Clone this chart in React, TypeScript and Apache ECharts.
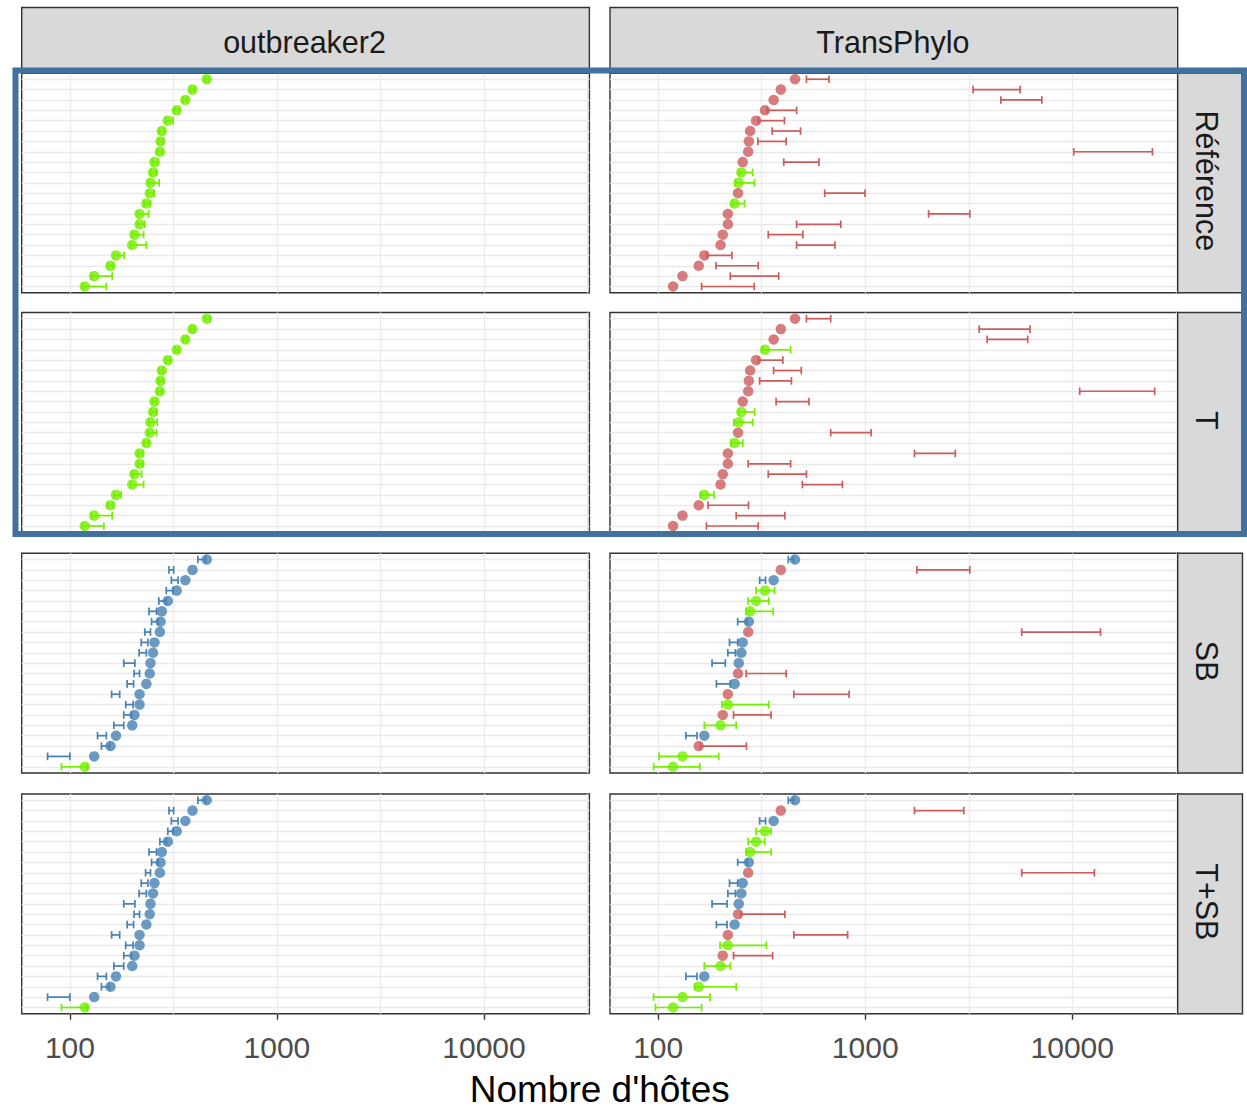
import React, { useEffect, useRef } from 'react';
import * as echarts from 'echarts';

// ---- data ----
const columnLabels = ['outbreaker2', 'TransPhylo'];
const rowLabels = ['Référence', 'T', 'SB', 'T+SB'];
const simRank = [1, 2, 3, 4, 5, 6, 7, 8, 9, 10, 11, 12, 13, 14, 15, 16, 17, 18, 19, 20, 21];
const xTickValues = [100, 1000, 10000];
const xGridValues = [100, 316.23, 1000, 3162.3, 10000, 31623];

const trueHosts = [458, 391, 361, 328, 297, 278, 274, 272, 256, 252, 245, 243, 234, 217, 217, 205, 200, 167, 157, 131, 118];

const obRefLow = [450, 380, 352, 320, 290, 270, 268, 265, 250, 246, 240, 238, 228, 212, 212, 200, 196, 163, 152, 127, 115];
const obRefHigh = [470, 400, 370, 338, 315, 285, 282, 280, 268, 262, 270, 255, 245, 240, 230, 227, 234, 183, 162, 160, 150];

const obTLow = [450, 382, 354, 322, 290, 270, 268, 265, 250, 246, 240, 238, 228, 212, 212, 200, 196, 163, 152, 127, 115];
const obTHigh = [475, 398, 368, 335, 305, 282, 282, 278, 262, 262, 264, 262, 240, 225, 225, 222, 227, 177, 162, 160, 146];

const obSBLow = [415, 301, 309, 292, 269, 241, 248, 230, 221, 216, 182, 204, 189, 159, 186, 182, 163, 136, 142, 78, 91];
const obSBHigh = [452, 317, 333, 315, 292, 262, 267, 245, 238, 234, 206, 217, 203, 174, 202, 198, 182, 150, 155, 100, 121];

const obTSBLow = [415, 301, 309, 297, 272, 241, 248, 232, 221, 216, 182, 204, 189, 159, 186, 182, 163, 136, 142, 78, 91];
const obTSBHigh = [452, 317, 333, 315, 292, 262, 267, 245, 238, 234, 206, 217, 203, 174, 202, 198, 182, 150, 155, 100, 121];

const tpRefLow = [520, 3319, 4519, 335, 305, 355, 303, 10160, 404, 245, 235, 637, 228, 2023, 466, 340, 466, 172, 190, 223, 162];
const tpRefHigh = [668, 5598, 7127, 466, 407, 487, 415, 24380, 598, 286, 292, 997, 261, 3199, 762, 500, 714, 227, 304, 382, 291];

const tpTLow = [520, 3550, 3881, 318, 305, 361, 309, 10860, 371, 245, 232, 681, 225, 1729, 272, 340, 497, 160, 174, 238, 171];
const tpTHigh = [681, 6250, 6093, 436, 400, 491, 440, 25000, 535, 292, 286, 1067, 256, 2723, 436, 520, 776, 186, 273, 409, 304];

const tpSBLow = [425, 1776, 309, 297, 272, 266, 242, 5700, 221, 217, 182, 266, 191, 452, 203, 231, 167, 136, 160, 101, 95];
const tpSBHigh = [450, 3199, 330, 365, 342, 359, 269, 13680, 242, 236, 211, 415, 223, 836, 342, 351, 238, 154, 267, 196, 159];

const tpTSBLow = [425, 1729, 309, 297, 272, 266, 242, 5700, 221, 217, 182, 250, 191, 452, 199, 231, 167, 136, 150, 95, 97];
const tpTSBHigh = [450, 2992, 330, 351, 327, 351, 269, 12790, 242, 236, 215, 409, 215, 822, 333, 357, 223, 154, 238, 178, 162];

const panels = [
  { row: 0, col: 0, low: obRefLow, high: obRefHigh },
  { row: 0, col: 1, low: tpRefLow, high: tpRefHigh },
  { row: 1, col: 0, low: obTLow, high: obTHigh },
  { row: 1, col: 1, low: tpTLow, high: tpTHigh },
  { row: 2, col: 0, low: obSBLow, high: obSBHigh },
  { row: 2, col: 1, low: tpSBLow, high: tpSBHigh },
  { row: 3, col: 0, low: obTSBLow, high: obTSBHigh },
  { row: 3, col: 1, low: tpTSBLow, high: tpTSBHigh },
];

// ---- styling / layout ----
const GREEN = '#76EE00';
const RED = '#CD5C5C';
const BLUE = '#4682B4';
const FONT = '"Liberation Sans", Arial, Helvetica, sans-serif';
const xMin = 58.5;
const xMax = 32300;
const gridLefts = [21.7, 610];
const gridTops = [73, 312.5, 553.3, 794];
const gridW = 567.7;
const gridH = 219.7;
const stripTop = 7.5;
const stripRightX = gridLefts[1] + gridW;
const stripRightW = 64.8;

function coverColor(v: number, lo: number, hi: number) {
  if (lo > v) return RED;
  if (hi < v) return BLUE;
  return GREEN;
}

function buildOption() {
  const grid: any[] = [];
  const xAxis: any[] = [];
  const yAxis: any[] = [];
  const series: any[] = [];

  panels.forEach((p, g) => {
    const colors = trueHosts.map((v, i) => coverColor(v, p.low[i], p.high[i]));
    grid.push({
      left: gridLefts[p.col],
      top: gridTops[p.row],
      width: gridW,
      height: gridH,
      show: true,
      backgroundColor: '#ffffff',
      borderColor: '#333333',
      borderWidth: 1.4,
    });
    xAxis.push({
      type: 'log',
      logBase: 10,
      gridIndex: g,
      min: xMin,
      max: xMax,
      position: 'bottom',
      axisLine: { show: false },
      axisTick: { show: false, customValues: xGridValues },
      axisLabel: { show: false },
      splitLine: { show: true, lineStyle: { color: '#ebebeb', width: 1.4 } },
    });
    yAxis.push({
      type: 'value',
      gridIndex: g,
      inverse: true,
      min: 0.4,
      max: 21.6,
      axisLine: { show: false },
      axisTick: { show: false, customValues: simRank },
      axisLabel: { show: false },
      splitLine: { show: true, lineStyle: { color: '#e9e9e9', width: 1.4 } },
    });
    series.push({
      type: 'custom',
      xAxisIndex: g,
      yAxisIndex: g,
      z: 2,
      encode: { x: [0, 1], y: 2 },
      data: p.low.map((lo, i) => [lo, p.high[i], simRank[i]]),
      renderItem: (params: any, api: any) => {
        const a = api.coord([api.value(0), api.value(2)]);
        const b = api.coord([api.value(1), api.value(2)]);
        const c = colors[params.dataIndex];
        const h = 3.8;
        const st = { stroke: c, lineWidth: 1.7 };
        return {
          type: 'group',
          children: [
            { type: 'line', shape: { x1: a[0], y1: a[1], x2: b[0], y2: b[1] }, style: st },
            { type: 'line', shape: { x1: a[0], y1: a[1] - h, x2: a[0], y2: a[1] + h }, style: st },
            { type: 'line', shape: { x1: b[0], y1: b[1] - h, x2: b[0], y2: b[1] + h }, style: st },
          ],
        };
      },
    });
    series.push({
      type: 'scatter',
      xAxisIndex: g,
      yAxisIndex: g,
      z: 3,
      symbol: 'circle',
      symbolSize: 10.5,
      data: trueHosts.map((v, i) => ({ value: [v, simRank[i]], itemStyle: { color: colors[i] } })),
    });
  });

  // bottom tick/label axes
  panels.forEach((p, g) => {
    if (p.row !== 3) return;
    xAxis.push({
      type: 'log',
      logBase: 10,
      gridIndex: g,
      min: xMin,
      max: xMax,
      position: 'bottom',
      axisLine: { show: false },
      axisTick: { show: true, length: 6, customValues: xTickValues, lineStyle: { color: '#333333', width: 1.4 } },
      axisLabel: {
        show: true,
        customValues: xTickValues,
        fontSize: 30,
        fontFamily: FONT,
        color: '#4d4d4d',
        margin: 19,
        formatter: (v: number) => String(Math.round(v)),
      },
      splitLine: { show: false },
    });
  });

  const graphic: any[] = [];
  columnLabels.forEach((lab, c) => {
    graphic.push({
      type: 'rect',
      shape: { x: gridLefts[c], y: stripTop, width: gridW, height: gridTops[0] - stripTop },
      style: { fill: '#d9d9d9', stroke: '#333333', lineWidth: 1.4 },
      z: 5,
    });
    graphic.push({
      type: 'text',
      x: gridLefts[c] + gridW / 2 - 1,
      y: (stripTop + gridTops[0]) / 2 + 2,
      style: { text: lab, fontSize: 30.5, fontFamily: FONT, fill: '#1a1a1a', align: 'center', verticalAlign: 'middle' },
      z: 6,
    });
  });
  rowLabels.forEach((lab, r) => {
    graphic.push({
      type: 'rect',
      shape: { x: stripRightX, y: gridTops[r], width: stripRightW, height: gridH },
      style: { fill: '#d9d9d9', stroke: '#333333', lineWidth: 1.4 },
      z: 5,
    });
    graphic.push({
      type: 'text',
      x: stripRightX + stripRightW / 2 - 3,
      y: gridTops[r] + gridH / 2 - 2,
      rotation: -Math.PI / 2,
      style: { text: lab, fontSize: 30.5, fontFamily: FONT, fill: '#1a1a1a', align: 'center', verticalAlign: 'middle' },
      z: 6,
    });
  });
  graphic.push({
    type: 'text',
    x: (gridLefts[0] + stripRightX) / 2,
    y: 1089,
    style: { text: "Nombre d'hôtes", fontSize: 37, fontFamily: FONT, fill: '#000000', align: 'center', verticalAlign: 'middle' },
    z: 6,
  });
  graphic.push({
    type: 'rect',
    shape: { x: 15.5, y: 70.5, width: 1228.5, height: 463.5 },
    style: { fill: 'none', stroke: '#41719c', lineWidth: 6 },
    z: 100,
  });

  return {
    animation: false,
    backgroundColor: '#ffffff',
    grid,
    xAxis,
    yAxis,
    series,
    graphic,
  };
}

export default function App() {
  const ref = useRef<HTMLDivElement>(null);
  useEffect(() => {
    if (!ref.current) return;
    const chart = echarts.init(ref.current, null, { renderer: 'svg' });
    chart.setOption(buildOption() as any);
    return () => chart.dispose();
  }, []);
  return (
    <div
      ref={ref}
      style={{ position: 'absolute', left: 0, top: 0, width: 1247, height: 1111, background: '#ffffff' }}
    />
  );
}
